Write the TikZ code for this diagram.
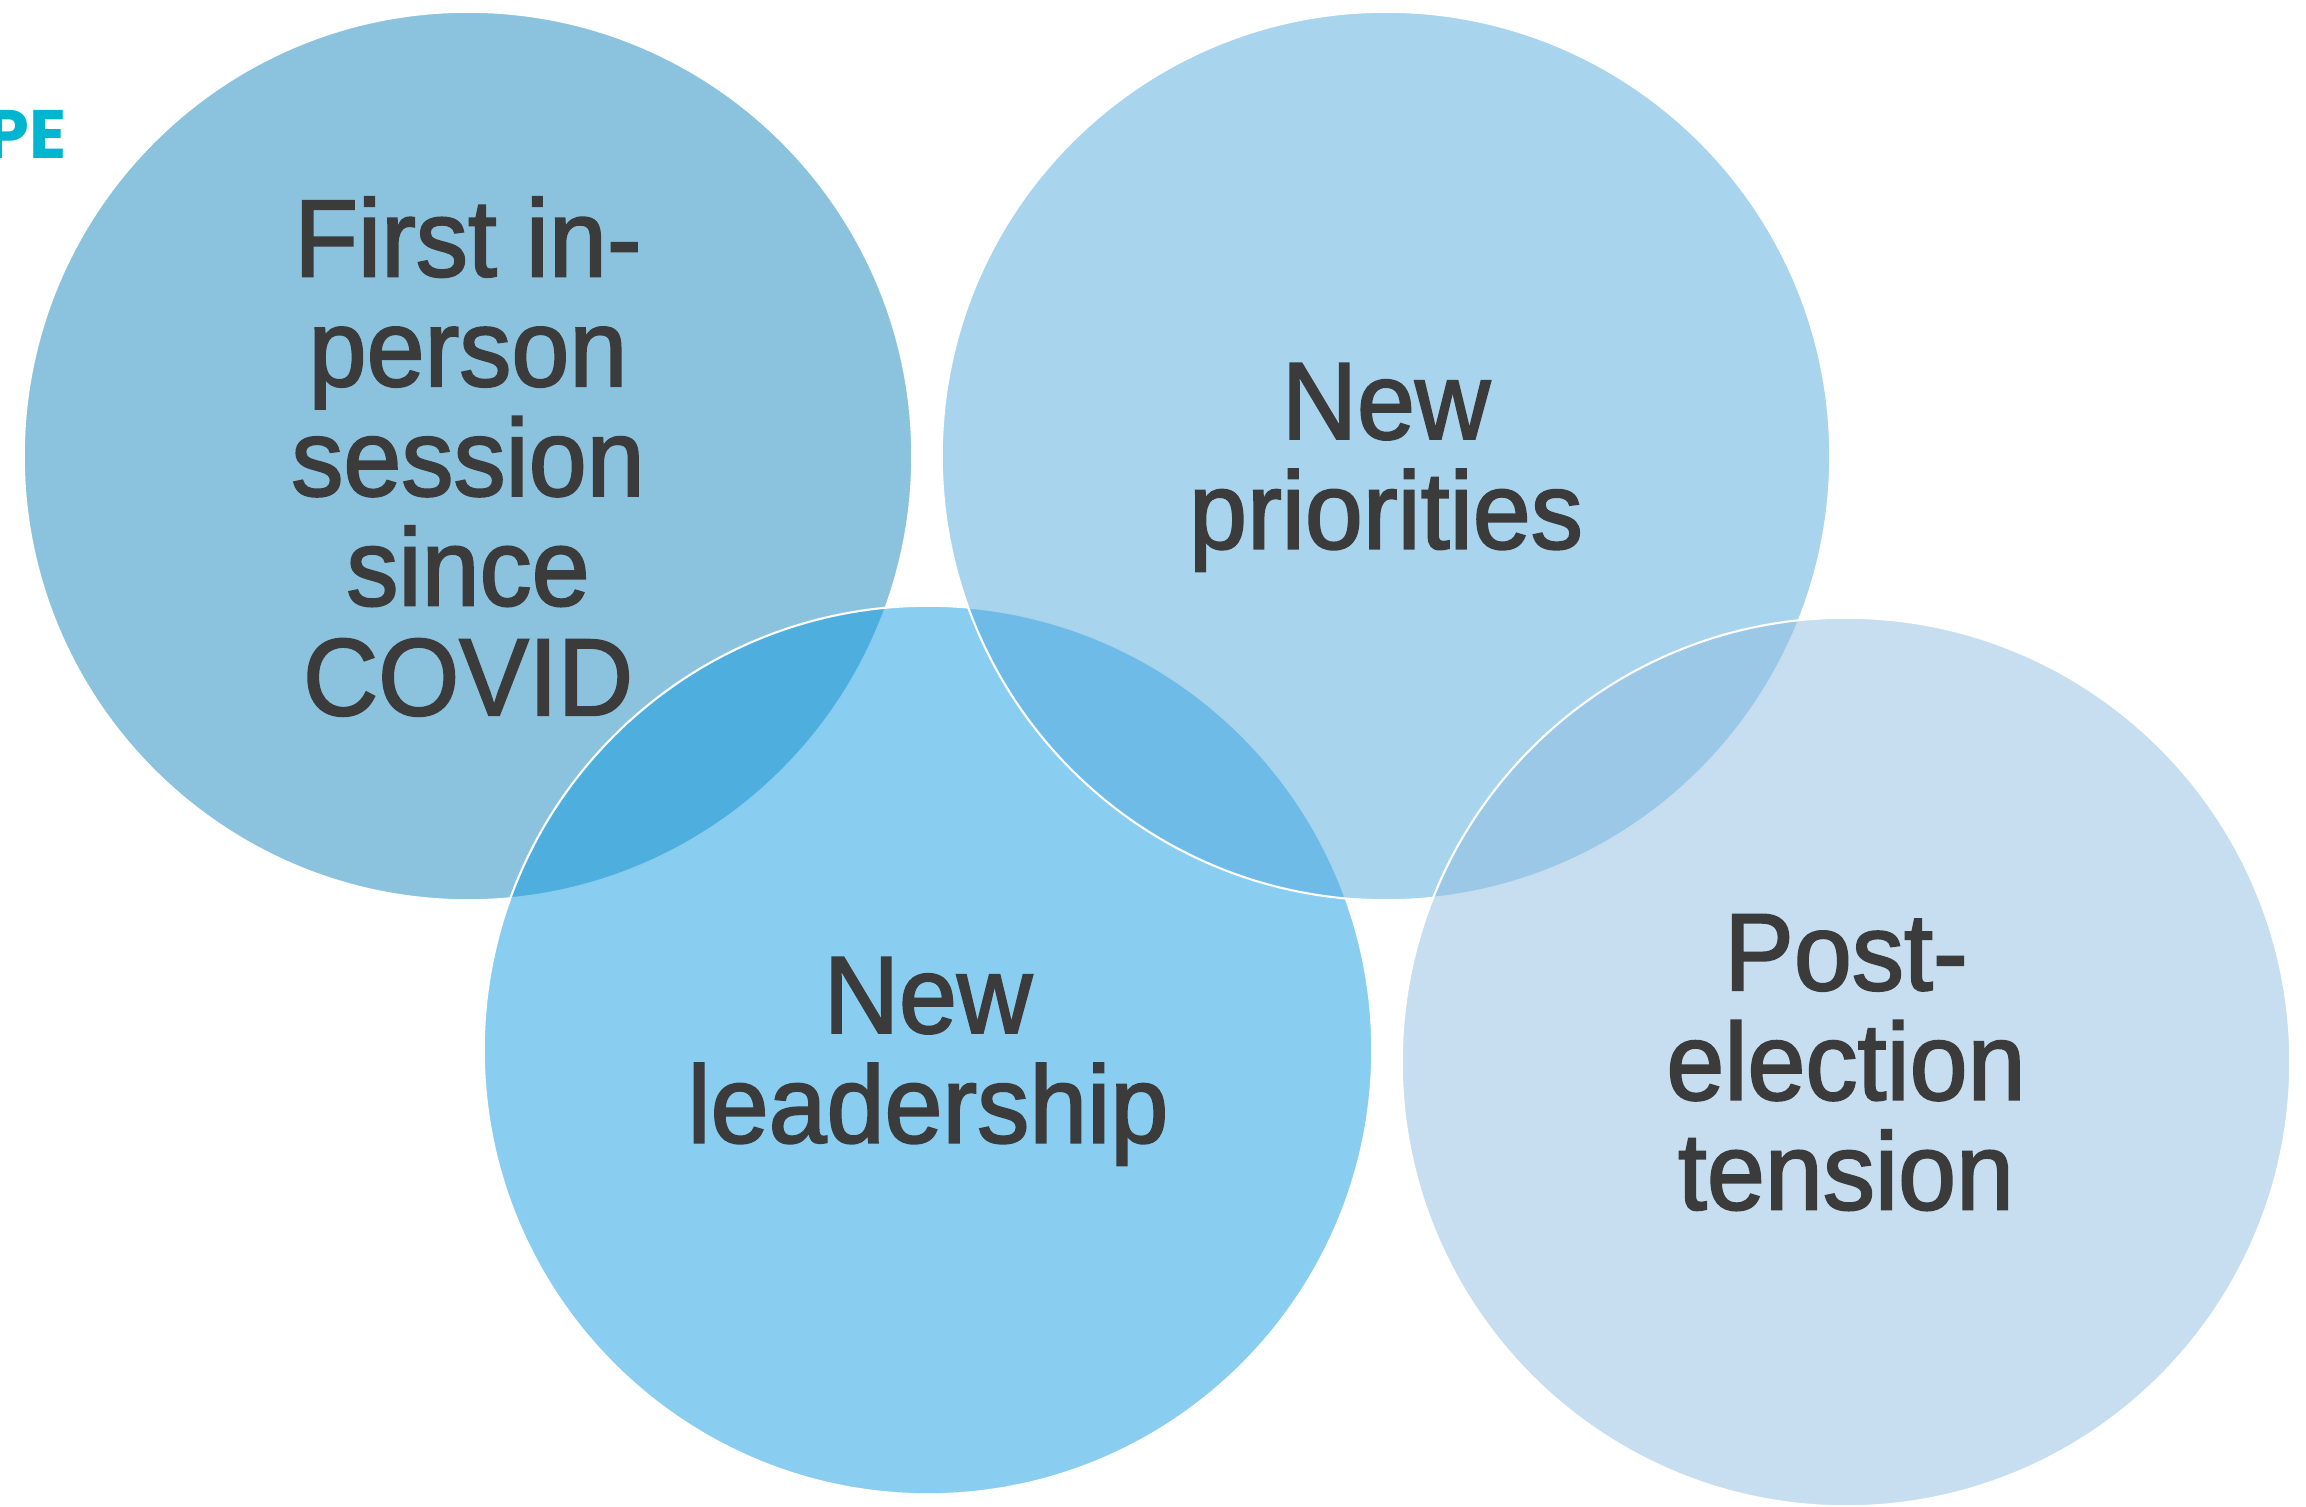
\documentclass[tikz,border=0pt]{standalone}
\usepackage{fontspec}
\setmainfont{Liberation Sans}
\newfontfamily\bubblefont[FakeStretch=0.95, FakeBold=1.8]{Liberation Sans}
\newfontfamily\tagfont{Poppins}
\usetikzlibrary{positioning}

\definecolor{cfirst}{RGB}{23,135,189}
\definecolor{clead}{RGB}{19,157,225}
\definecolor{cprio}{RGB}{83,169,221}
\definecolor{cpost}{RGB}{141,189,223}
\definecolor{txtgray}{RGB}{59,59,59}
\definecolor{tagcyan}{RGB}{0,181,208}

\begin{document}
\begin{tikzpicture}[x=0.01cm, y=-0.01cm,
	bubble/.style={circle, draw=white, line width=0.6pt, fill opacity=0.5, text opacity=1,
		minimum size=8.88cm, inner sep=0pt, align=center, text=txtgray, text depth=0pt,
		font=\bubblefont\fontsize{31.2}{31.2}\selectfont}]
	\useasboundingbox (0,0) rectangle (2306,1506);
	
	\node[bubble, fill=cfirst] (covid) at (468,456) {First in-\\person\\session\\since\\COVID};
	\node[bubble, fill=clead] (lead) at (928,1050) {New\\leadership};
	\node[bubble, fill=cprio] (prio) at (1386,456) {New\\priorities};
	\node[bubble, fill=cpost] (post) at (1846,1062) {Post-\\election\\tension};
	
	\node[anchor=base east, inner sep=0pt, text=tagcyan, font=\tagfont\bfseries\fontsize{19.5}{19.5}\selectfont] (tag) at (67,158) {PE};
\end{tikzpicture}
\end{document}
